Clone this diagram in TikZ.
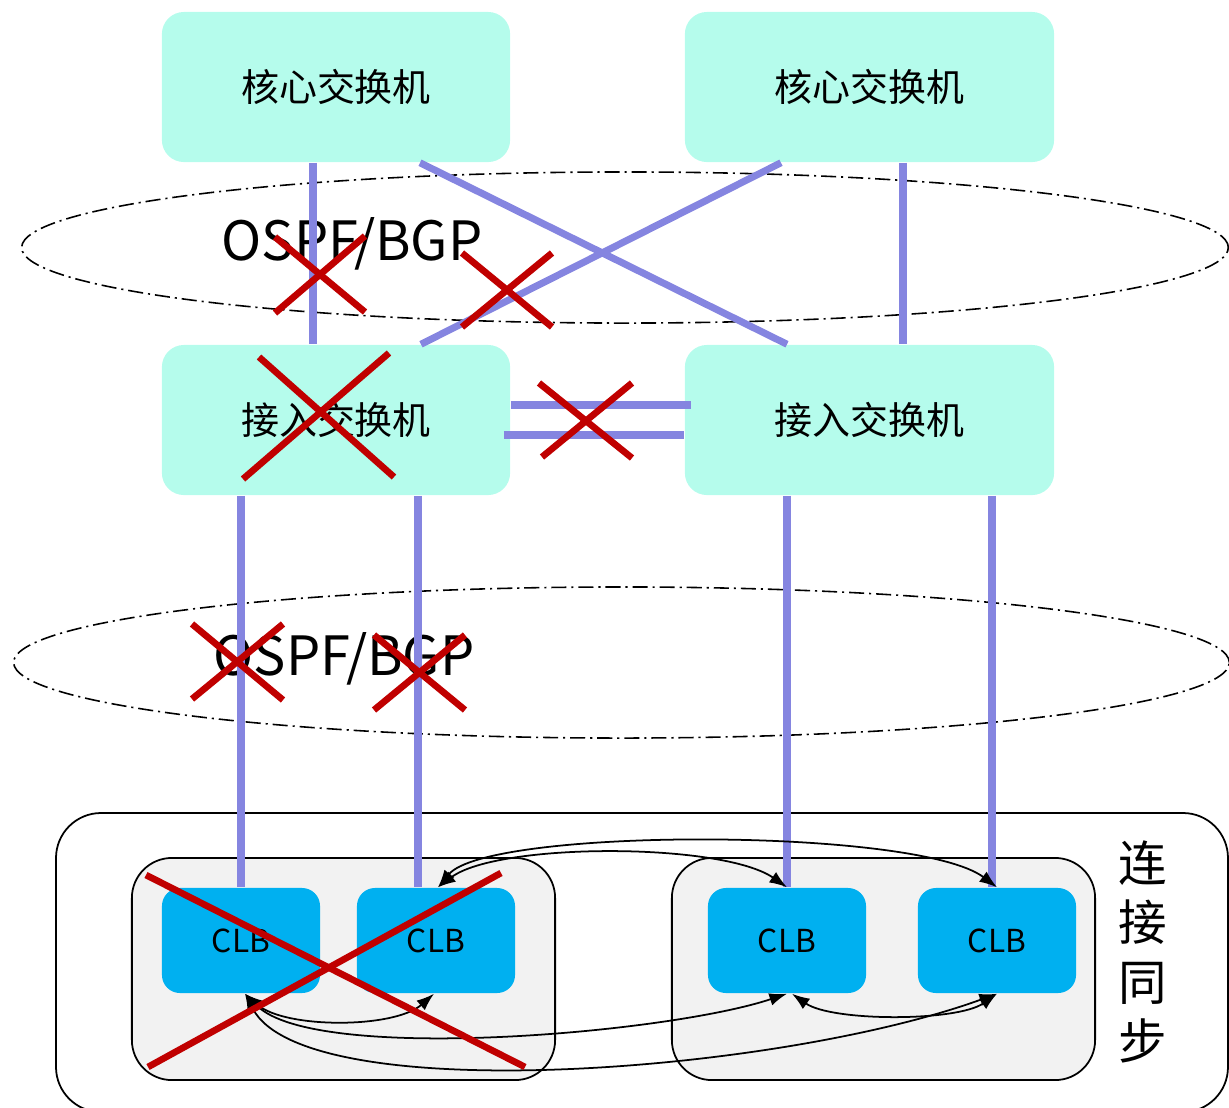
\documentclass[tikz,border=0pt]{standalone}
\usepackage{fontspec}
\setmainfont{Noto Sans CJK SC}
\usepackage{xcolor}
\usepackage{tikz}
\usetikzlibrary{positioning,calc,arrows.meta}

\definecolor{swfill}{RGB}{181,252,236}
\definecolor{linkblue}{RGB}{133,133,224}
\definecolor{crossred}{RGB}{192,0,0}
\definecolor{clbblue}{RGB}{0,176,240}
\definecolor{grpgray}{RGB}{242,242,242}

\begin{document}
\begin{tikzpicture}[
	x=0.01cm,y=-0.01cm,
	line join=round,
	switch/.style={fill=swfill, rounded corners=0.22cm, inner sep=0pt,
		minimum width=3.48cm, minimum height=1.5cm,
		font=\fontsize{10.8}{13}\selectfont},
	clb/.style={fill=clbblue, rounded corners=0.18cm, inner sep=0pt,
		minimum width=1.58cm, minimum height=1.05cm,
		font=\fontsize{9}{10}\selectfont},
	group/.style={draw=black, fill=grpgray, line width=0.5pt, rounded corners=0.4cm,
		minimum width=4.23cm, minimum height=2.22cm},
	link/.style={linkblue, line width=2pt},
	cross/.style={crossred, line width=1.9pt},
	area/.style={black, line width=0.45pt,
		dash pattern=on 4.3pt off 1.4pt on 0.6pt off 1.4pt},
	sync/.style={black, line width=0.5pt,
		{Latex[length=5pt,width=3.6pt]}-{Latex[length=5pt,width=3.6pt]}},
	proto/.style={anchor=base, font=\fontsize{15.4}{18}\selectfont}
	]
	% ---- canvas
	\useasboundingbox (0,0) rectangle (1229,1108);
	\clip (0,0) rectangle (1229,1108);
	
	% ---- sync zone with the two CLB groups
	\draw[black, line width=0.5pt, rounded corners=0.45cm] (56,813) rectangle (1228,1112);
	\node[group] (grp1) at (343.5,969) {};
	\node[group] (grp2) at (883.5,969) {};
	\node[clb] (clb1) at (241,940.5) {CLB};
	\node[clb] (clb2) at (436,940.5) {CLB};
	\node[clb] (clb3) at (787,940.5) {CLB};
	\node[clb] (clb4) at (997,940.5) {CLB};
	\node[align=center, inner sep=0pt, font=\fontsize{13.8}{16.9}\selectfont]
		(synclbl) at (1142.5,952) {连\\接\\同\\步};
	
	% ---- routing areas
	\draw[area] (625,247.5) ellipse [x radius=6.03cm, y radius=0.755cm];
	\draw[area] (621.5,662.5) ellipse [x radius=6.075cm, y radius=0.755cm];
	\node[proto] (ospf1) at (352,260) {OSPF/BGP};
	\node[proto] (ospf2) at (344,675) {OSPF/BGP};
	
	% ---- switches
	\node[switch] (core1) at (336,87) {核心交换机};
	\node[switch, minimum width=3.69cm] (core2) at (869.5,87) {核心交换机};
	\node[switch] (acc1) at (336,420) {接入交换机};
	\node[switch, minimum width=3.69cm] (acc2) at (869.5,420) {接入交换机};
	
	% core -> access
	\draw[link] ($(core1.south)+(-23,0)$) -- ($(acc1.north)+(-23,0)$);
	\draw[link] ($(core1.south)+(84,0)$) -- ($(acc2.north)+(-82.5,0)$);
	\draw[link] ($(core2.south)+(-88.5,0)$) -- ($(acc1.north)+(85,0)$);
	\draw[link] ($(core2.south)+(33.5,0)$) -- ($(acc2.north)+(33.5,0)$);
	% access <-> access
	\draw[link] ($(acc1.east)+(0,-15)$) -- ($(acc2.west)+(7,-15)$);
	\draw[link] ($(acc1.east)+(-7,15)$) -- ($(acc2.west)+(0,15)$);
	% access -> CLB
	\draw[link] (clb1.north |- acc1.south) -- (clb1.north);
	\draw[link] ($(acc1.south)+(82,0)$) -- ($(clb2.north)+(-18,0)$);
	\draw[link] (clb3.north |- acc2.south) -- (clb3.north);
	\draw[link] ($(acc2.south)+(122.5,0)$) -- ($(clb4.north)+(-5,0)$);
	
	% ---- session sync between CLBs
	\draw[sync] ($(clb2.north)+(2,0)$) .. controls +(60,-45) and +(-65,-45) .. (clb3.north);
	\draw[sync] ($(clb2.north)+(2,0)$) .. controls +(50,-60) and +(-80,-60) .. (clb4.north);
	\draw[sync] ($(clb1.south)+(4,0)$) .. controls +(40,35) and +(-40,35) .. ($(clb2.south)+(-2,0)$);
	\draw[sync] ($(clb1.south)+(4,0)$) .. controls +(70,70) and +(-120,40) .. (clb3.south);
	\draw[sync] ($(clb1.south)+(4,0)$) .. controls +(60,115) and +(-220,80) .. (clb4.south);
	\draw[sync] ($(clb3.south)+(5,0)$) .. controls +(40,28) and +(-40,28) .. (clb4.south);
	
	% ---- failed paths
	\foreach \ax/\ay/\bx/\by in {
		275/237/365/312, 275/313/365/236,
		462/253/552/327, 462/327/552/253,
		259/357/394/477, 243/479/389/353,
		539/383/632/458, 542/457/632/383,
		192/624/283/700, 192/699/283/624,
		374/635/465/710, 374/710/465/635,
		146/875/525/1067, 148/1067/501/873}{
		\draw[cross] (\ax,\ay) -- (\bx,\by);
	}
\end{tikzpicture}
\end{document}
